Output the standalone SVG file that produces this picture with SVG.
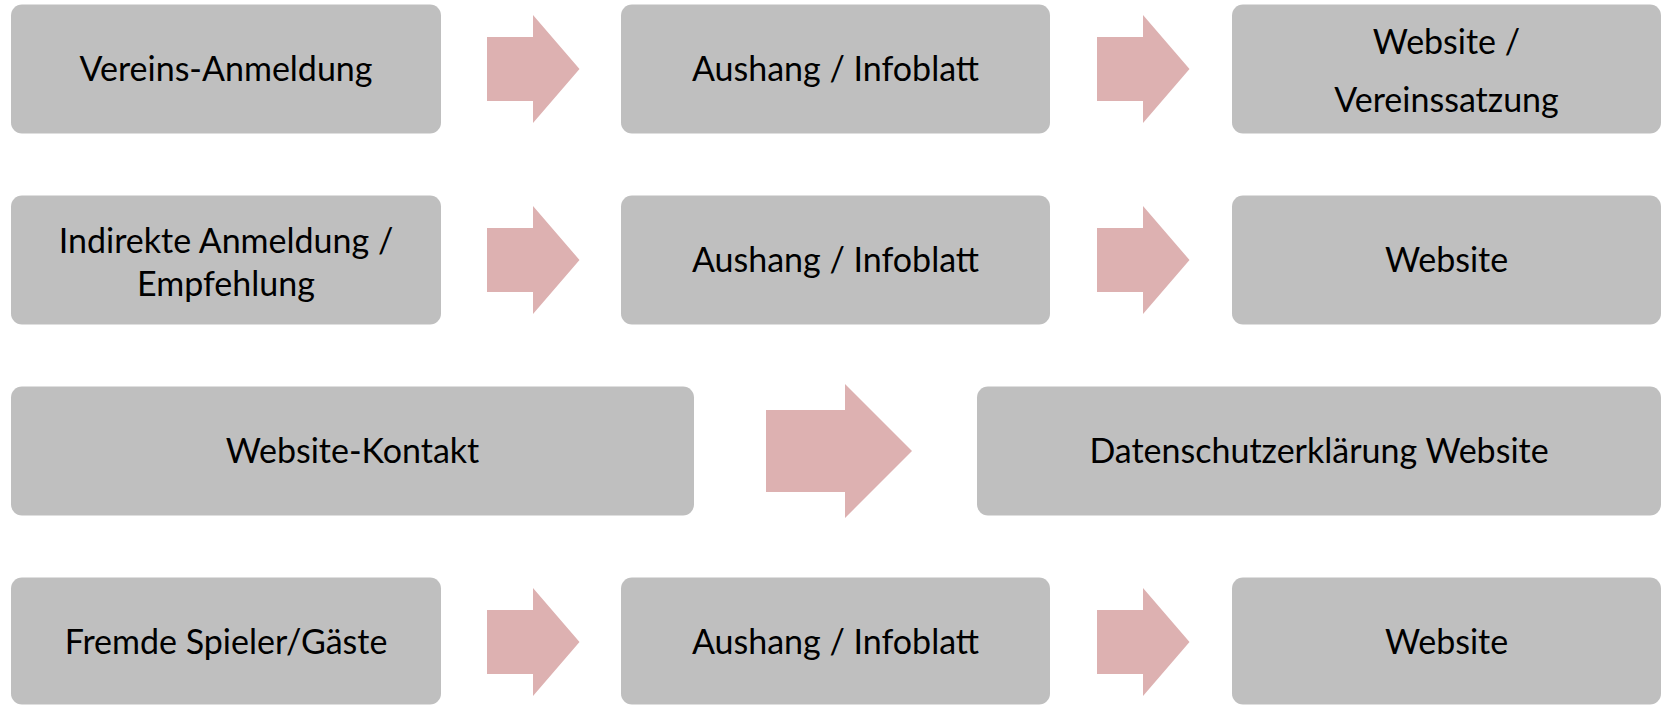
<svg xmlns="http://www.w3.org/2000/svg" width="1661" height="705" viewBox="0 0 1661 705">
  <style>
    .box { fill: #BFBFBF; }
    .arrow { fill: #DDB1B1; }
    .label { font-family: Lato, "Open Sans", "Liberation Sans", sans-serif; font-size: 34px; fill: #000; text-anchor: middle; }
  </style>
  <defs>
    <!-- block arrow for the three-step rows, centred on y=0 -->
    <polygon id="step-arrow" points="0,-32 46,-32 46,-54 92.5,0 46,54 46,32 0,32"/>
  </defs>
  <rect width="1661" height="705" fill="#FFFFFF"/>

  <g id="connectors">
    <use href="#step-arrow" class="arrow" x="487" y="69"/>
    <use href="#step-arrow" class="arrow" x="1097" y="69"/>
    <use href="#step-arrow" class="arrow" x="487" y="260"/>
    <use href="#step-arrow" class="arrow" x="1097" y="260"/>
    <polygon class="arrow" points="766,410 845,410 845,384 912,451 845,518 845,492 766,492"/>
    <use href="#step-arrow" class="arrow" x="487" y="642"/>
    <use href="#step-arrow" class="arrow" x="1097" y="642"/>
  </g>

  <!-- row 1 -->
  <g id="vereins-anmeldung">
    <rect class="box" x="11" y="4.5" width="430" height="129" rx="11"/>
    <text class="label" x="226" y="81">Vereins-Anmeldung</text>
  </g>
  <g id="aushang-1">
    <rect class="box" x="621" y="4.5" width="429" height="129" rx="11"/>
    <text class="label" x="835.5" y="81">Aushang / Infoblatt</text>
  </g>
  <g id="website-vereinssatzung">
    <rect class="box" x="1232" y="4.5" width="429" height="129" rx="11"/>
    <text class="label" x="1446.5" y="54">Website /</text>
    <text class="label" x="1446.5" y="112">Vereinssatzung</text>
  </g>

  <!-- row 2 -->
  <g id="indirekte-anmeldung">
    <rect class="box" x="11" y="195.5" width="430" height="129" rx="11"/>
    <text class="label" x="226" y="253">Indirekte Anmeldung /</text>
    <text class="label" x="226" y="296">Empfehlung</text>
  </g>
  <g id="aushang-2">
    <rect class="box" x="621" y="195.5" width="429" height="129" rx="11"/>
    <text class="label" x="835.5" y="272">Aushang / Infoblatt</text>
  </g>
  <g id="website-2">
    <rect class="box" x="1232" y="195.5" width="429" height="129" rx="11"/>
    <text class="label" x="1446.5" y="272">Website</text>
  </g>

  <!-- row 3 -->
  <g id="website-kontakt">
    <rect class="box" x="11" y="386.5" width="683" height="129" rx="11"/>
    <text class="label" x="352.5" y="463">Website-Kontakt</text>
  </g>
  <g id="datenschutzerklaerung">
    <rect class="box" x="977" y="386.5" width="684" height="129" rx="11"/>
    <text class="label" x="1319" y="463">Datenschutzerklärung Website</text>
  </g>

  <!-- row 4 -->
  <g id="fremde-spieler">
    <rect class="box" x="11" y="577.5" width="430" height="127" rx="11"/>
    <text class="label" x="226" y="654">Fremde Spieler/Gäste</text>
  </g>
  <g id="aushang-3">
    <rect class="box" x="621" y="577.5" width="429" height="127" rx="11"/>
    <text class="label" x="835.5" y="654">Aushang / Infoblatt</text>
  </g>
  <g id="website-3">
    <rect class="box" x="1232" y="577.5" width="429" height="127" rx="11"/>
    <text class="label" x="1446.5" y="654">Website</text>
  </g>
</svg>
